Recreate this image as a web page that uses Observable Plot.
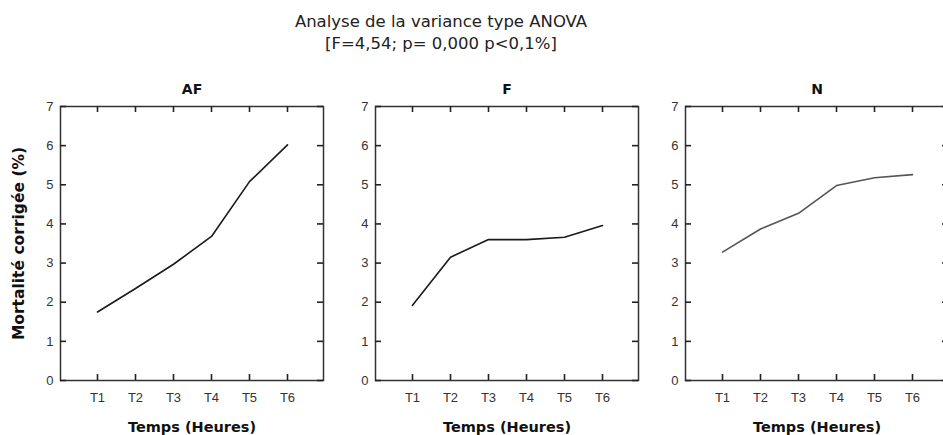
<!DOCTYPE html>
<html lang="fr">
<head>
<meta charset="utf-8">
<script src="https://cdn.jsdelivr.net/npm/d3@7"></script>
<script src="https://cdn.jsdelivr.net/npm/@observablehq/plot@0.6"></script>
<style>
  html, body { margin: 0; padding: 0; background: #fff; overflow: hidden; }
  #wrap { position: relative; width: 943px; height: 435px; overflow: hidden; font-family: "DejaVu Sans", sans-serif; }
  #title { position: absolute; left: 0; top: 11px; width: 882px; text-align: center; font-size: 16.5px; line-height: 22px; color: #222; }
  .panel { position: absolute; top: 60px; }
  .panel svg { display: block; max-width: none !important; }
  .panel g[aria-label="y-axis label"] text,
  .panel g[aria-label="x-axis label"] text { font-family: "DejaVu Sans", sans-serif; font-weight: bold; font-size: 14.5px; fill: #111; }
  .panel g[aria-label="y-axis label"] text { font-size: 15.5px; }
</style>
</head>
<body>
<div id="wrap">
  <div id="title">Analyse de la variance type ANOVA<br>[F=4,54; p= 0,000 p&lt;0,1%]</div>
</div>
<script>
// Sampling times
const temps = ["T1", "T2", "T3", "T4", "T5", "T6"];
// Corrected mortality (%) per treatment
const groups = ["AF", "F", "N"];
const afValues = [1.75, 2.35, 2.97, 3.68, 5.08, 6.02];
const fValues = [1.92, 3.15, 3.6, 3.6, 3.66, 3.96];
const nValues = [3.28, 3.87, 4.27, 4.98, 5.18, 5.26];
const yTicks = [0, 1, 2, 3, 4, 5, 6, 7];

const series = [afValues, fValues, nValues];
const lineColors = ["#1a1a1a", "#1a1a1a", "#555"];
const panelLeft = [0, 335, 645];
const marginLefts = [60, 40, 40];

// inner plot box size and inward tick length
const boxW = 263, boxH = 274, tick = 6;

const wrap = document.getElementById("wrap");

groups.forEach((g, gi) => {
  const rows = temps.map((t, i) => ({temps: t, value: series[gi][i]}));
  const ml = marginLefts[gi];
  const chart = Plot.plot({
    width: ml + boxW + 5,
    height: 46 + boxH + 55,
    marginLeft: ml,
    marginRight: 5,
    marginTop: 46,
    marginBottom: 55,
    style: {fontFamily: "Liberation Sans, Arial, sans-serif", fontSize: "13px", color: "#333", background: "transparent", maxWidth: "none"},
    x: {type: "point", domain: temps, padding: 0.96},
    y: {domain: [0, 7]},
    marks: [
      Plot.frame({stroke: "#333", strokeWidth: 1.5}),
      // inward tick marks on all four sides
      Plot.tickX(temps, {x: d => d, insetTop: boxH - tick, stroke: "#222", strokeWidth: 1.6}),
      Plot.tickX(temps, {x: d => d, insetBottom: boxH - tick, stroke: "#222", strokeWidth: 1.6}),
      Plot.tickY(yTicks, {y: d => d, insetRight: boxW - tick, stroke: "#222", strokeWidth: 1.6}),
      Plot.tickY(yTicks, {y: d => d, insetLeft: boxW - tick, stroke: "#222", strokeWidth: 1.6}),
      // tick labels and axis titles
      Plot.axisX({anchor: "bottom", tickSize: 0, tickPadding: 12,
        label: "Temps (Heures)", labelAnchor: "center", labelArrow: "none", labelOffset: 51}),
      Plot.axisY(yTicks, {anchor: "left", tickSize: 0, tickPadding: 7,
        label: gi === 0 ? "Mortalité corrigée (%)" : null, labelAnchor: "center", labelArrow: "none", labelOffset: 48}),
      Plot.line(rows, {x: "temps", y: "value", stroke: lineColors[gi], strokeWidth: 1.6}),
      Plot.text([g], {text: d => d, frameAnchor: "top", dy: -22, fontSize: 14, fontWeight: "bold", fill: "#111",
        fontFamily: "DejaVu Sans, sans-serif"})
    ]
  });
  const holder = document.createElement("div");
  holder.className = "panel";
  holder.style.left = panelLeft[gi] + "px";
  holder.appendChild(chart);
  wrap.appendChild(holder);
});
</script>
</body>
</html>
